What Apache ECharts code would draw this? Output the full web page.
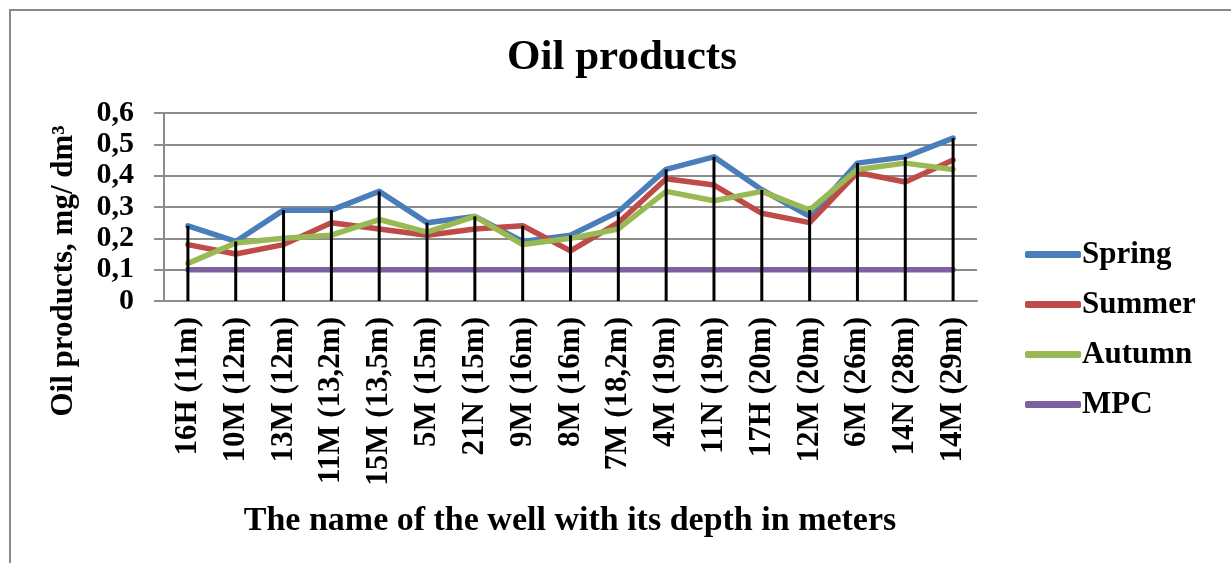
<!DOCTYPE html>
<html>
<head>
<meta charset="utf-8">
<script src="https://cdn.jsdelivr.net/npm/echarts@6/dist/echarts.min.js"></script>
<style>html,body{margin:0;padding:0;background:#fff;}#c{width:1231px;height:563px;}</style>
</head>
<body>
<div id="c"></div>
<script>
const categories = ['16H (11m)','10M (12m)','13M (12m)','11M (13,2m)','15M (13,5m)','5M (15m)','21N (15m)','9M (16m)','8M (16m)','7M (18,2m)','4M (19m)','11N (19m)','17H (20m)','12M (20m)','6M (26m)','14N (28m)','14M (29m)'];
const spring = [0.24,0.19,0.29,0.29,0.35,0.25,0.27,0.19,0.21,0.285,0.42,0.46,0.355,0.27,0.44,0.46,0.52];
const summer = [0.18,0.15,0.18,0.25,0.23,0.21,0.23,0.24,0.16,0.25,0.39,0.37,0.28,0.25,0.41,0.38,0.45];
const autumn = [0.12,0.185,0.20,0.21,0.26,0.22,0.27,0.18,0.20,0.23,0.35,0.32,0.35,0.29,0.42,0.44,0.42];
const mpc = [0.1,0.1,0.1,0.1,0.1,0.1,0.1,0.1,0.1,0.1,0.1,0.1,0.1,0.1,0.1,0.1,0.1];
const yTicks = ['0','0,1','0,2','0,3','0,4','0,5','0,6'];

const dropTops = categories.map((_, i) => Math.max(spring[i], summer[i], autumn[i], mpc[i]));
const FONT = '"Liberation Serif", "Times New Roman", serif';
const chart = echarts.init(document.getElementById('c'));
const lineSeries = (name, data, color) => ({
  name, type: 'line', data, symbol: 'none', z: 3,
  lineStyle: { color, width: 5.5, cap: 'round', join: 'round' },
  itemStyle: { color }
});
chart.setOption({
  animation: false,
  graphic: [
    { type: 'rect', shape: { x: 10, y: 10, width: 1240, height: 580 }, style: { fill: 'none', stroke: '#8a8a8a', lineWidth: 2 } },
    { type: 'text', x: 622, y: 58, style: { text: 'Oil products', font: 'bold 43px ' + FONT, fill: '#000', align: 'center', verticalAlign: 'middle' } },
    { type: 'text', x: 64, y: 271, rotation: Math.PI / 2, style: { text: 'Oil products, mg/ dm³', font: 'bold 31px ' + FONT, fill: '#000', align: 'center', verticalAlign: 'middle' } },
    { type: 'text', x: 570, y: 521, style: { text: 'The name of the well with its depth in meters', font: 'bold 34px ' + FONT, fill: '#000', align: 'center', verticalAlign: 'middle' } }
  ],
  legend: {
    orient: 'vertical', left: 1020, top: 234, itemWidth: 56, itemHeight: 7, itemGap: 19,
    icon: 'roundRect',
    data: ['Spring','Summer','Autumn','MPC'],
    textStyle: { fontFamily: FONT, fontWeight: 'bold', fontSize: 31, color: '#000', padding: [0,0,0,-4] }
  },
  grid: { left: 164, right: 254, top: 113, bottom: 262, containLabel: false },
  xAxis: {
    type: 'category', data: categories, boundaryGap: true,
    axisLine: { lineStyle: { color: '#8c8c8c', width: 2 } },
    axisTick: { show: false },
    axisLabel: { rotate: 90, interval: 0, margin: 16, color: '#000', fontFamily: FONT, fontWeight: 'bold', fontSize: 31 }
  },
  yAxis: {
    type: 'value', min: 0, max: 0.6, interval: 0.1,
    axisLine: { show: true, lineStyle: { color: '#8c8c8c', width: 2 } },
    axisTick: { show: true, length: 10, lineStyle: { color: '#8c8c8c', width: 2 } },
    splitLine: { lineStyle: { color: '#8c8c8c', width: 2 } },
    axisLabel: { margin: 30, color: '#000', fontFamily: FONT, fontWeight: 'bold', fontSize: 30,
      formatter: v => yTicks[Math.round(v * 10)] }
  },
  series: [
    lineSeries('Spring', spring, '#4A7EBB'),
    lineSeries('Summer', summer, '#BE4B48'),
    lineSeries('Autumn', autumn, '#98B954'),
    lineSeries('MPC', mpc, '#7D60A0'),
    { name: 'drop', type: 'bar', data: dropTops, barWidth: 3, z: 5, silent: true,
      itemStyle: { color: '#000' } }
  ]
});
</script>
</body>
</html>
